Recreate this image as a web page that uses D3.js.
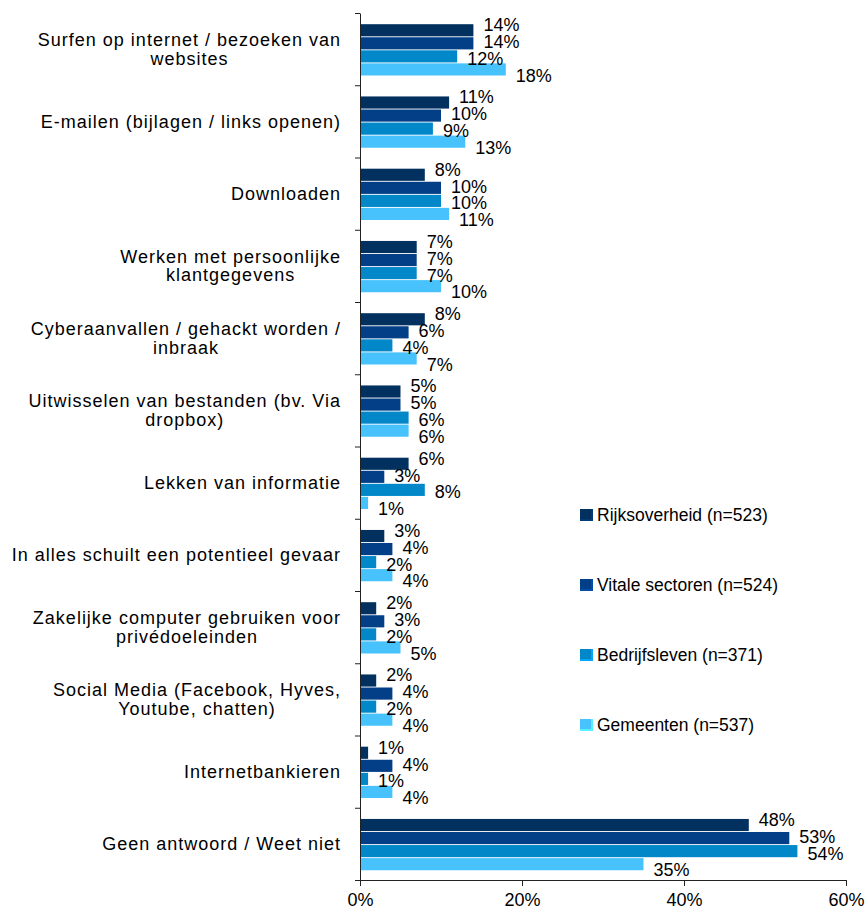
<!DOCTYPE html>
<html>
<head>
<meta charset="utf-8">
<script src="https://cdn.jsdelivr.net/npm/d3@7"></script>
<style>
  html, body { margin: 0; padding: 0; background: #fff; }
  svg { display: block; font-family: "Liberation Sans", Arial, sans-serif; }
</style>
</head>
<body>
<svg id="chart" width="867" height="910"></svg>
<script>
// Categories (each entry is the list of wrapped label lines)
const categories = [
  ["Surfen op internet / bezoeken van", "websites"],
  ["E-mailen (bijlagen / links openen)"],
  ["Downloaden"],
  ["Werken met persoonlijke", "klantgegevens"],
  ["Cyberaanvallen / gehackt worden /", "inbraak"],
  ["Uitwisselen van bestanden (bv. Via", "dropbox)"],
  ["Lekken van informatie"],
  ["In alles schuilt een potentieel gevaar"],
  ["Zakelijke computer gebruiken voor", "privédoeleinden"],
  ["Social Media (Facebook, Hyves,", "Youtube, chatten)"],
  ["Internetbankieren"],
  ["Geen antwoord / Weet niet"]
];

const seriesNames = [
  "Rijksoverheid (n=523)",
  "Vitale sectoren (n=524)",
  "Bedrijfsleven (n=371)",
  "Gemeenten (n=537)"
];

// Percentages per series, in category order
const rijksoverheid = [14, 11, 8, 7, 8, 5, 6, 3, 2, 2, 1, 48];
const vitaleSectoren = [14, 10, 10, 7, 6, 5, 3, 4, 3, 4, 4, 53];
const bedrijfsleven = [12, 9, 10, 7, 4, 6, 8, 2, 2, 2, 1, 54];
const gemeenten = [18, 13, 11, 10, 7, 6, 1, 4, 5, 4, 4, 35];

const xTicks = [0, 20, 40, 60];

const seriesValues = [rijksoverheid, vitaleSectoren, bedrijfsleven, gemeenten];
const colors = ["#02305f", "#033f86", "#0287c9", "#48c2fc"];

const svg = d3.select("#chart");
const plotLeft = 360, plotRight = 846, plotTop = 13, plotBottom = 880;
const font = 18;

const catIdx = d3.range(categories.length);
const x = d3.scaleLinear().domain([0, 60]).range([plotLeft, plotRight]);
const y = d3.scaleBand().domain(catIdx).range([plotTop, plotBottom]).padding(0);
const bw = y.bandwidth();
const y1 = d3.scaleBand().domain(d3.range(seriesNames.length))
  .range([bw * 0.155, bw * 0.865]).paddingInner(0.07);

// Bars
const groups = svg.append("g").selectAll("g")
  .data(catIdx).join("g")
  .attr("transform", i => `translate(0,${y(i)})`);

groups.selectAll("rect")
  .data(i => seriesValues.map((vals, s) => ({ s, v: vals[i] })))
  .join("rect")
  .attr("x", x(0))
  .attr("y", d => y1(d.s))
  .attr("width", d => x(d.v) - x(0))
  .attr("height", y1.bandwidth())
  .attr("fill", d => colors[d.s]);

// Value labels, spread vertically around the group centre
const labelStep = 16.8;
groups.each(function (i) {
  const g = d3.select(this);
  seriesValues.forEach((vals, s) => {
    const v = vals[i];
    const t = g.append("text")
      .attr("font-size", font)
      .attr("fill", "#000")
      .attr("dy", "0.35em")
      .attr("y", bw / 2 + 1 + (s - 1.5) * labelStep)
      .text(v + "%");
    const w = t.node().getComputedTextLength();
    const lx = Math.min(x(v) + 10, plotRight - w);
    t.attr("x", lx);
  });
});

// Left axis: ticks at category boundaries
const yb = d3.scaleLinear().domain([0, categories.length]).range([plotTop, plotBottom]);
const yAxis = svg.append("g")
  .attr("transform", `translate(${plotLeft},0)`)
  .call(d3.axisLeft(yb).ticks(categories.length).tickFormat("").tickSize(5).tickSizeOuter(0));
yAxis.select(".domain").attr("stroke", "#222");
yAxis.selectAll(".tick line").attr("stroke", "#222");

// Bottom axis
const xAxis = svg.append("g")
  .attr("transform", `translate(0,${plotBottom})`)
  .call(d3.axisBottom(x).tickValues(xTicks).tickFormat(d => d + "%").tickSize(6).tickSizeOuter(0));
xAxis.select(".domain").attr("stroke", "#222");
xAxis.selectAll(".tick line").attr("stroke", "#222");
xAxis.selectAll(".tick text")
  .attr("font-size", font)
  .attr("font-family", "Liberation Sans, Arial, sans-serif")
  .attr("fill", "#000")
  .attr("y", 13);

// Category labels: block right-aligned, lines centred inside block
const lineH = 18.5;
catIdx.forEach(i => {
  const lines = categories[i];
  const g = svg.append("g");
  const texts = lines.map((ln, k) => g.append("text")
    .attr("font-size", font)
    .attr("letter-spacing", "1px")
    .attr("fill", "#000")
    .attr("text-anchor", "middle")
    .attr("dy", "0.35em")
    .attr("y", y(i) + bw / 2 + (k - (lines.length - 1) / 2) * lineH)
    .text(ln));
  const maxW = d3.max(texts, t => t.node().getComputedTextLength());
  texts.forEach(t => t.attr("x", 341 - maxW / 2));
});

// Legend
const legend = svg.append("g").selectAll("g")
  .data(seriesNames).join("g")
  .attr("transform", (d, s) => `translate(580,${515 + s * 70})`);
legend.append("rect")
  .attr("x", 0).attr("y", -6).attr("width", 13).attr("height", 12)
  .attr("fill", (d, s) => d3.color(colors[s]).brighter(0.6));
legend.append("rect")
  .attr("x", 0).attr("y", -6).attr("width", 11).attr("height", 10)
  .attr("fill", (d, s) => colors[s]);
legend.append("text")
  .attr("x", 17).attr("dy", "0.35em")
  .attr("font-size", 17.5)
  .attr("fill", "#000")
  .text(d => d);
</script>
</body>
</html>
